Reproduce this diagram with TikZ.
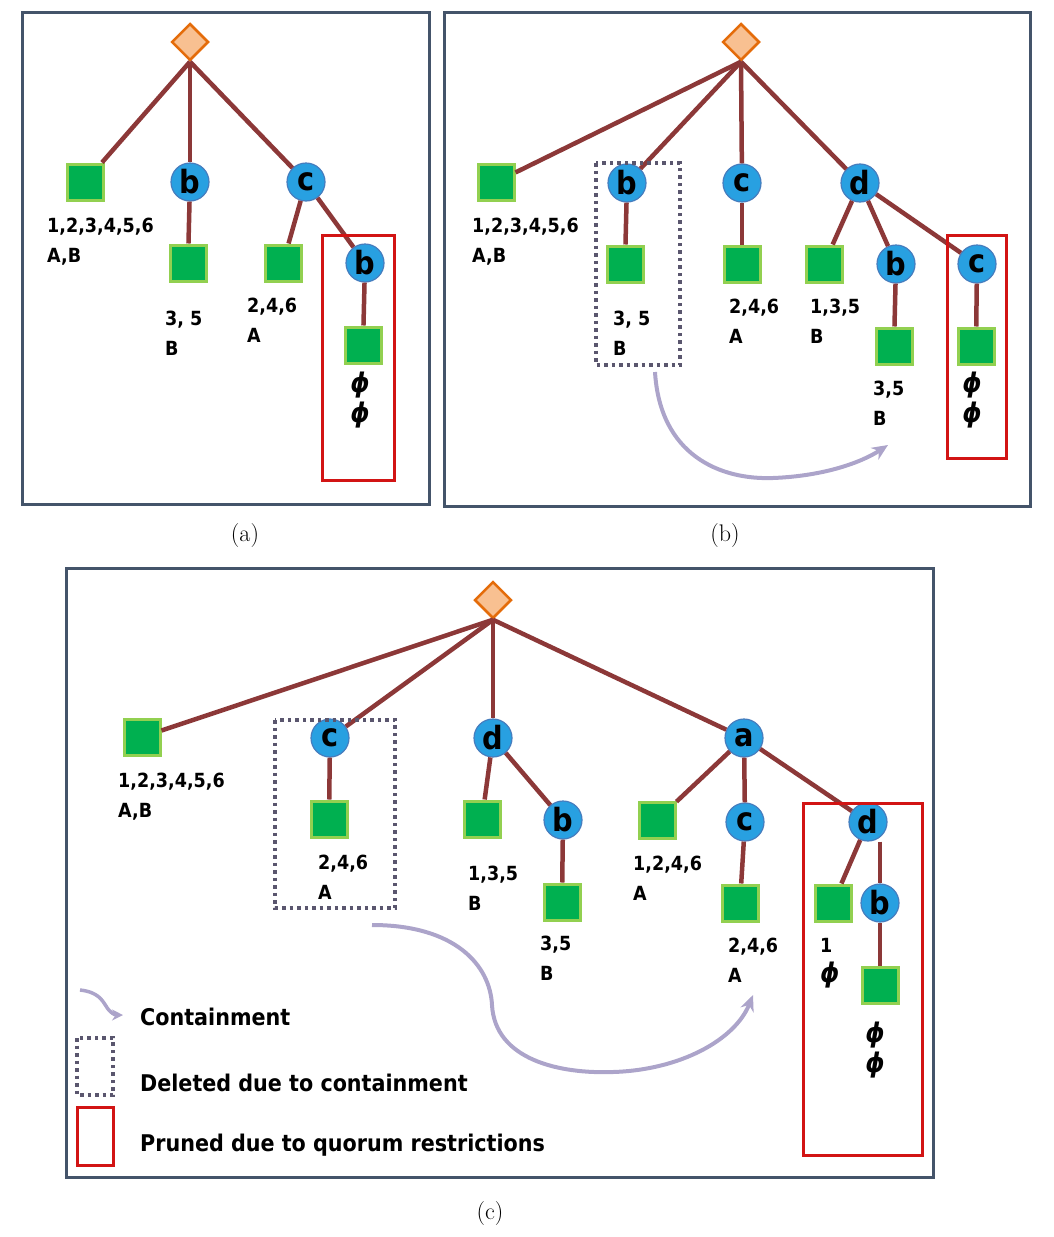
\documentclass[tikz,border=0pt]{standalone}
\usepackage{fontspec}
\usetikzlibrary{shapes.geometric,arrows.meta}
\newfontfamily\lblfont{DejaVu Sans Condensed}
\definecolor{panelframe}{RGB}{68,84,106}
\definecolor{edgebrown}{RGB}{140,56,56}
\definecolor{itemblue}{RGB}{40,160,225}
\definecolor{itemrim}{RGB}{70,125,190}
\definecolor{leafgreen}{RGB}{0,176,80}
\definecolor{leafrim}{RGB}{146,208,80}
\definecolor{rootfill}{RGB}{248,192,145}
\definecolor{rootrim}{RGB}{228,108,10}
\definecolor{prunered}{RGB}{210,20,20}
\definecolor{deletegray}{RGB}{90,86,110}
\definecolor{containlilac}{RGB}{172,164,202}
\newcommand{\emptymark}{{\lblfont\bfseries\itshape\fontsize{27}{30}\selectfont ϕ}}

\begin{document}
\begin{tikzpicture}[x=1pt,y=-1pt]
\tikzset{root node/.style=
            {diamond,aspect=1,minimum width=37pt,minimum height=37pt,inner sep=0pt,
             fill=rootfill,draw=rootrim,line width=2.5pt},
         item node/.style=
            {circle,minimum size=38pt,inner sep=0pt,fill=itemblue,draw=itemrim,line width=1.2pt,
             font=\lblfont\bfseries\fontsize{32}{32}\selectfont},
         leaf node/.style=
            {rectangle,minimum size=36pt,inner sep=0pt,fill=leafgreen,draw=leafrim,line width=3pt},
         set label/.style=
            {anchor=north west,inner sep=0pt,align=left,font=\lblfont\bfseries\fontsize{19.5}{30}\selectfont},
         empty label/.style=
            {anchor=north,inner sep=0pt,align=center,font=\fontsize{27}{30}\selectfont},
         branch/.style={draw=edgebrown,line width=4.5pt},
         panel/.style={draw=panelframe,line width=3pt},
         pruned/.style={draw=prunered,line width=3pt},
         deleted/.style={draw=deletegray,line width=3.5pt,dash pattern=on 3.5pt off 4pt},
         contain/.style={draw=containlilac,line width=4pt,-{Stealth[length=16pt,width=14pt]}},
         caption/.style={font=\fontsize{24}{24}\selectfont},
         legend text/.style={anchor=west,inner sep=0pt,font=\lblfont\bfseries\fontsize{23}{23}\selectfont}}
\useasboundingbox (0,0) rectangle (1053,1237);

% (a)
\draw[panel] (22,12) rectangle (429,504);
\node[root node] (ar) at (190,42) {};
\node[leaf node] (al1) at (85,182) {};
\node[item node] (ab) at (190,182) {b};
\node[leaf node] (abl) at (188,263) {};
\node[item node] (ac) at (306,182) {c};
\node[leaf node] (acl) at (283,263) {};
\node[item node] (acb) at (365,263) {b};
\node[leaf node] (acbl) at (363,345) {};
\draw[branch] (ar.south) -- (al1); \draw[branch] (ar.south) -- (ab); \draw[branch] (ar.south) -- (ac);
\draw[branch] (ab) -- (abl); \draw[branch] (ac) -- (acl); \draw[branch] (ac) -- (acb);
\draw[branch] (acb) -- (acbl);
\node[set label] (al1t) at (47,218) {1,2,3,4,5,6\\A,B};
\node[set label] (ablt) at (165,311) {3, 5\\B};
\node[set label] (aclt) at (247,298) {2,4,6\\A};
\node[empty label] (acblt) at (360,372) {\emptymark\\\emptymark};
\draw[pruned] (322,235) rectangle (394,480);
\node[caption] (acap) at (245,536) {(a)};

% (b)
\draw[panel] (444,12) rectangle (1030,506);
\node[root node] (br) at (741,42) {};
\node[leaf node] (bl1) at (496,182) {};
\node[item node] (bb) at (627,183) {b};
\node[leaf node] (bbl) at (625,264) {};
\node[item node] (bc) at (742,183) {c};
\node[leaf node] (bcl) at (742,264) {};
\node[item node] (bd) at (860,183) {d};
\node[leaf node] (bdl) at (824,264) {};
\node[item node] (bdb) at (896,264) {b};
\node[leaf node] (bdbl) at (894,346) {};
\node[item node] (bdc) at (977,264) {c};
\node[leaf node] (bdcl) at (976,346) {};
\draw[branch] (br.south) -- (bl1); \draw[branch] (br.south) -- (bb);
\draw[branch] (br.south) -- (bc); \draw[branch] (br.south) -- (bd);
\draw[branch] (bb) -- (bbl); \draw[branch] (bc) -- (bcl);
\draw[branch] (bd) -- (bdl); \draw[branch] (bd) -- (bdb); \draw[branch] (bd) -- (bdc);
\draw[branch] (bdb) -- (bdbl); \draw[branch] (bdc) -- (bdcl);
\node[set label] (bl1t) at (472,218) {1,2,3,4,5,6\\A,B};
\node[set label] (bblt) at (613,311) {3, 5\\B};
\node[set label] (bclt) at (729,299) {2,4,6\\A};
\node[set label] (bdlt) at (810,299) {1,3,5\\B};
\node[set label] (bdblt) at (873,381) {3,5\\B};
\node[empty label] (bdclt) at (972,372) {\emptymark\\\emptymark};
\draw[deleted] (596,163) rectangle (680,365);
\draw[pruned] (947,235) rectangle (1006,458);
\coordinate (bfrom) at (655,372);
\coordinate (bto) at (888,445);
\draw[contain] (bfrom) .. controls (660,455) and (720,480) .. (773,478)
    .. controls (825,476) and (862,462) .. (bto);
\node[caption] (bcap) at (725,536) {(b)};

% (c)
\draw[panel] (66,568) rectangle (933,1177);
\node[root node] (cr) at (493,600) {};
\node[leaf node] (cl1) at (142,737) {};
\node[item node] (cc) at (330,738) {c};
\node[leaf node] (ccl) at (329,819) {};
\node[item node] (cd) at (493,738) {d};
\node[leaf node] (cdl) at (482,819) {};
\node[item node] (cdb) at (563,820) {b};
\node[leaf node] (cdbl) at (562,902) {};
\node[item node] (ca) at (744,738) {a};
\node[leaf node] (cal) at (657,820) {};
\node[item node] (cac) at (745,822) {c};
\node[leaf node] (cacl) at (740,903) {};
\node[item node] (cad) at (868,822) {d};
\node[leaf node] (cadl) at (833,903) {};
\node[item node] (cadb) at (880,903) {b};
\node[leaf node] (cadbl) at (880,985) {};
\draw[branch] (cr.south) -- (cl1); \draw[branch] (cr.south) -- (cc);
\draw[branch] (cr.south) -- (cd); \draw[branch] (cr.south) -- (ca);
\draw[branch] (cc) -- (ccl); \draw[branch] (cd) -- (cdl); \draw[branch] (cd) -- (cdb);
\draw[branch] (cdb) -- (cdbl);
\draw[branch] (ca) -- (cal); \draw[branch] (ca) -- (cac); \draw[branch] (ca) -- (cad);
\draw[branch] (cac) -- (cacl); \draw[branch] (cad) -- (cadl);
\draw[branch] (cadb |- cad.south) -- (cadb);
\draw[branch] (cadb) -- (cadbl);
\node[set label] (cl1t) at (118,773) {1,2,3,4,5,6\\A,B};
\node[set label] (cclt) at (318,855) {2,4,6\\A};
\node[set label] (cdlt) at (468,866) {1,3,5\\B};
\node[set label] (cdblt) at (540,936) {3,5\\B};
\node[set label] (calt) at (633,856) {1,2,4,6\\A};
\node[set label] (caclt) at (728,938) {2,4,6\\A};
\node[set label] (cadlt) at (820,938) {1\\\emptymark};
\node[empty label] (cadblt) at (875,1022) {\emptymark\\\emptymark};
\draw[deleted] (275,720) rectangle (395,908);
\draw[pruned] (803,803) rectangle (922,1155);
\coordinate (cfrom) at (372,925);
\coordinate (cto) at (753,995);
\draw[contain] (cfrom) .. controls (455,925) and (490,965) .. (492,1005)
    .. controls (495,1060) and (560,1074) .. (613,1072)
    .. controls (680,1070) and (735,1040) .. (cto);
% legend
\coordinate (kfrom) at (80,990);
\coordinate (kto) at (123,1015);
\draw[contain,line width=3.5pt,-{Stealth[length=11pt,width=11pt]}] (kfrom)
    .. controls (98,992) and (102,1000) .. (106,1006) .. controls (110,1013) and (115,1015) .. (kto);
\node[legend text] (kcontain) at (140,1017) {Containment};
\draw[deleted] (77,1038) rectangle (113,1095);
\node[legend text] (kdeleted) at (140,1083) {Deleted due to containment};
\draw[pruned] (77,1107) rectangle (113,1165);
\node[legend text] (kpruned) at (140,1145) {Pruned due to quorum restrictions};
\node[caption] (ccap) at (490,1213) {(c)};
\end{tikzpicture}
\end{document}
